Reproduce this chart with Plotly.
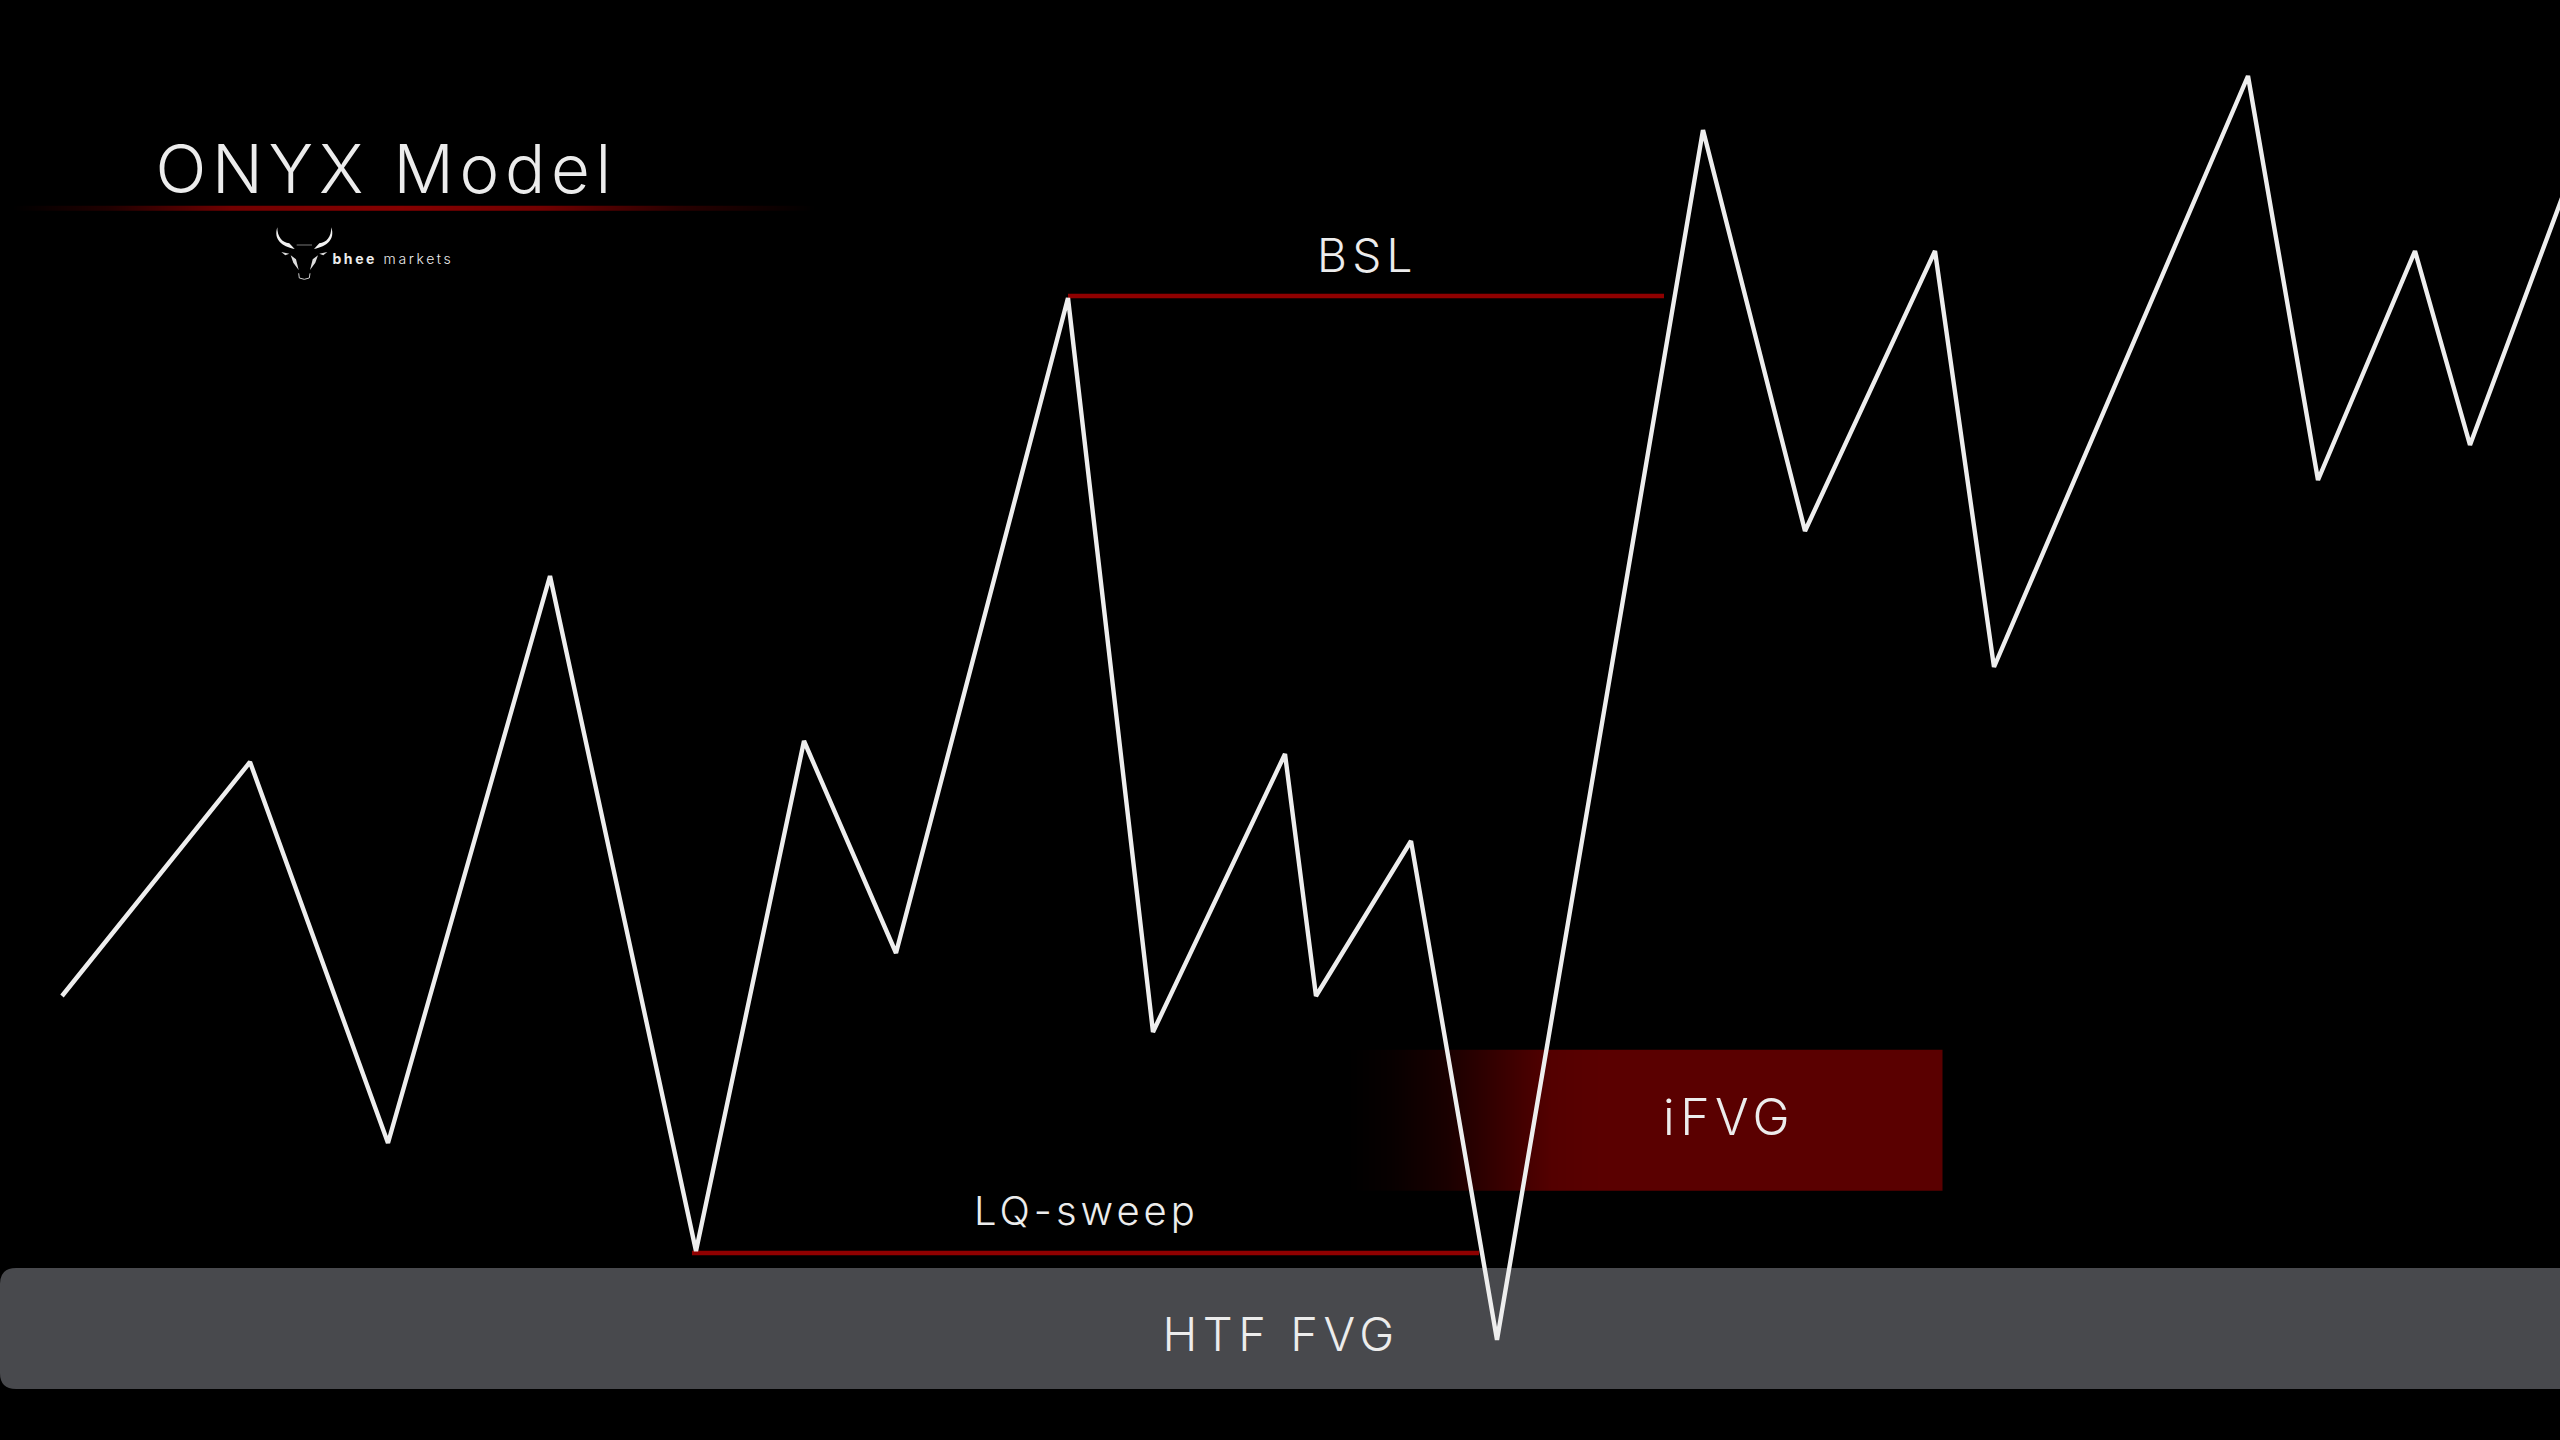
import plotly.graph_objects as go

# zig-zag price path (image pixels)
path_x = [62, 250, 388, 550, 696, 804, 896, 1068, 1153, 1285, 1316, 1411, 1497, 1703, 1805, 1935, 1994, 2248, 2318, 2415, 2470, 2562]
path_y = [996, 762, 1143, 576, 1251, 741, 953, 298, 1032, 754, 996, 841, 1340, 130, 531, 251, 667, 76, 480, 251, 445, 198]

# levels
bsl_x = [1068, 1664]
bsl_y = [296, 296]
lq_x = [692, 1479]
lq_y = [1253, 1253]

# zones
ifvg_x = [1345, 1346, 1390, 1445, 1500, 1550, 1600, 1941, 1942]
ifvg_alpha = [0.0, 0.0, 0.08, 0.28, 0.62, 0.93, 1.0, 1.0, 1.0]
ifvg_y = [1050, 1050.5, 1189.5, 1190]
htf_y = [1268, 1389]

# title underline fade
rule_x = [10, 11, 110, 230, 400, 540, 680, 815, 816]
rule_alpha = [0.0, 0.0, 0.25, 0.85, 1.0, 0.85, 0.3, 0.0, 0.0]
rule_y = [206, 206.5, 210, 210.5]

labels = ["BSL", "LQ-sweep", "iFVG", "HTF FVG", "ONYX Model", "<b>bhee</b> markets"]
label_x = [1367, 1086, 1729, 1281, 386, 346]
label_y = [255, 1210, 1117, 1333, 168, 258]
label_size = [46, 40, 50, 47, 67, 14]
label_anchor = ["center", "center", "center", "center", "center", "left"]
label_track = [5.3, 4, 5.5, 5.6, 5.7, 2.6]

FONT = "Inter"
INK = "#ececec"

fig = go.Figure()

fig.add_trace(go.Heatmap(x=ifvg_x, y=ifvg_y, z=[ifvg_alpha] * 4, zsmooth="best",
                         zmin=0, zmax=1, showscale=False, hoverinfo="skip",
                         colorscale=[[0, "#000000"], [1, "#5a0000"]]))
fig.add_trace(go.Heatmap(x=rule_x, y=rule_y, z=[rule_alpha] * 4, zsmooth="best",
                         zmin=0, zmax=1, showscale=False, hoverinfo="skip",
                         colorscale=[[0, "#000000"], [1, "#860000"]]))

fig.add_trace(go.Scatter(x=bsl_x, y=bsl_y, mode="lines", line=dict(color="#8f0000", width=4.5), hoverinfo="skip"))
fig.add_trace(go.Scatter(x=lq_x, y=lq_y, mode="lines", line=dict(color="#8f0000", width=4.5), hoverinfo="skip"))
fig.add_trace(go.Scatter(x=path_x, y=path_y, mode="lines",
                         line=dict(color="#eeeeee", width=4.4, shape="linear"), hoverinfo="skip"))

# HTF FVG band with rounded left corners, behind the path
r = 16
fig.add_shape(type="path", layer="below", line_width=0, fillcolor="#48494d",
              path=f"M 0 {htf_y[0]+r} Q 0 {htf_y[0]} {r} {htf_y[0]} L 2560 {htf_y[0]} L 2560 {htf_y[1]} "
                   f"L {r} {htf_y[1]} Q 0 {htf_y[1]} 0 {htf_y[1]-r} Z")

# bull logo: crop-space strokes mirrored about the muzzle
def P(x, y):
    return f"{260 + x / 3:.1f} {220 + y / 3:.1f}"

def mirror(x):
    return 266 - x

def horn(m):
    return (f"M {P(m(52),22)} C {P(m(40),58)} {P(m(65),80)} {P(m(104),87)} "
            f"L {P(m(88),70)} C {P(m(66),68)} {P(m(52),50)} {P(m(52),22)} Z")

def face(m):
    return (f"M {P(m(64),96)} L {P(m(88),101)} L {P(m(76),106)} Z "
            f"M {P(m(92),106)} L {P(m(108),118)} L {P(m(116),150)} L {P(m(100),128)} Z")

for m in (lambda v: v, mirror):
    fig.add_shape(type="path", path=horn(m), line_width=0, fillcolor="#f2f2f2")
    fig.add_shape(type="path", path=face(m), line_width=0, fillcolor="#dddddd")
fig.add_shape(type="path", path=f"M {P(110,75)} L {P(156,75)}", line=dict(color="#777777", width=1))
fig.add_shape(type="path", path=f"M {P(116,160)} L {P(118,174)} L {P(133,178)} L {P(148,174)} L {P(150,160)}",
              line=dict(color="#cccccc", width=1))

for t, x, y, s, a in zip(labels, label_x, label_y, label_size, label_anchor):
    fig.add_annotation(x=x, y=y, text=t, showarrow=False, xanchor=a, yanchor="middle",
                       font=dict(family=FONT, size=s, color=INK, weight=300))

fig.update_xaxes(visible=False, range=[0, 2560], fixedrange=True)
fig.update_yaxes(visible=False, range=[1440, 0], fixedrange=True)
fig.update_layout(width=2560, height=1440, margin=dict(l=0, r=0, t=0, b=0), showlegend=False,
                  paper_bgcolor="#000000", plot_bgcolor="#000000")

post = """
document.documentElement.style.background = '#000';
document.body.style.margin = '0';
document.body.style.background = '#000';
document.documentElement.style.overflow = 'hidden';
var track = %s;
document.querySelectorAll('.annotation').forEach(function (a, i) {
  a.querySelectorAll('text').forEach(function (t) { t.style.letterSpacing = track[i] + 'px'; });
});
""" % label_track
fig.write_html("out.html", config={"displayModeBar": False}, post_script=post)
